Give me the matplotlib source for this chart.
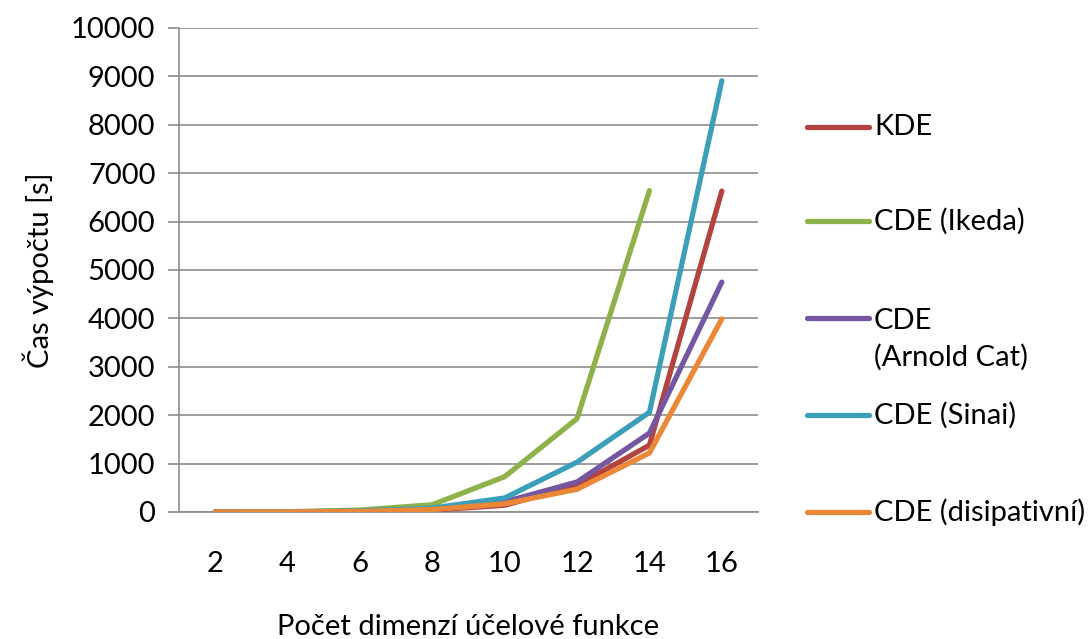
import matplotlib.pyplot as plt
from matplotlib.lines import Line2D

plt.rcParams['font.family'] = ['Lato', 'DejaVu Sans']

# data
dims = [2, 4, 6, 8, 10, 12, 14, 16]
kde = [0, 2, 10, 40, 140, 550, 1380, 6630]
ikeda = [0, 5, 40, 150, 730, 1930, 6640]
arnold = [0, 2, 12, 50, 210, 620, 1630, 4750]
sinai = [0, 3, 20, 80, 290, 1030, 2060, 8910]
disip = [0, 2, 12, 50, 170, 470, 1220, 3990]

labels = ['KDE', 'CDE (Ikeda)', 'CDE\n(Arnold Cat)', 'CDE (Sinai)', 'CDE (disipativní)']
series = [kde, ikeda, arnold, sinai, disip]
colors = ['#b4423f', '#8db14b', '#7457a0', '#3b9fba', '#ea8838']

fs = 21
fig = plt.figure(figsize=(10.88, 6.39), dpi=100)
ax = fig.add_axes([179 / 1088, 1 - 512 / 639, (758 - 179) / 1088, (512 - 28) / 639])

pos = list(range(len(dims)))
for vals, c in zip(series, colors):
    ax.plot(pos[:len(vals)], vals, color=c, lw=3.8, solid_capstyle='round',
            solid_joinstyle='round', zorder=3)

ax.set_xlim(-0.5, len(dims) - 0.5)
ax.set_ylim(0, 10000)
ax.set_yticks(range(0, 10001, 1000))
ax.set_xticks(pos)
ax.set_xticklabels([str(d) for d in dims])
ax.grid(axis='y', color='#8c8c8c', lw=1.2)
ax.set_axisbelow(True)
for s in ['top', 'right']:
    ax.spines[s].set_visible(False)
for s in ['left', 'bottom']:
    ax.spines[s].set_color('#8c8c8c')
    ax.spines[s].set_linewidth(1.2)
ax.tick_params(axis='y', length=8, width=1.2, color='#8c8c8c', labelsize=fs, pad=9)
ax.tick_params(axis='x', length=0, labelsize=fs, pad=28)

ax.set_ylabel('Čas výpočtu [s]', fontsize=fs, labelpad=12)
ax.set_xlabel('Počet dimenzí účelové funkce', fontsize=fs, labelpad=27)

# legend drawn by hand (Excel style, evenly spaced entries)
leg_y = [127, 221, 318, 415, 512]
for lab, c, yp in zip(labels, colors, leg_y):
    yf = 1 - yp / 639
    fig.add_artist(Line2D([807 / 1088, 869 / 1088], [yf, yf], color=c, lw=3.8,
                          solid_capstyle='round', transform=fig.transFigure))
    ty = yf - 21 / 639 if '\n' in lab else yf
    fig.text(874 / 1088, ty, lab, fontsize=fs, va='center', ha='left', linespacing=1.45)

fig.savefig('out.png', dpi=100)
